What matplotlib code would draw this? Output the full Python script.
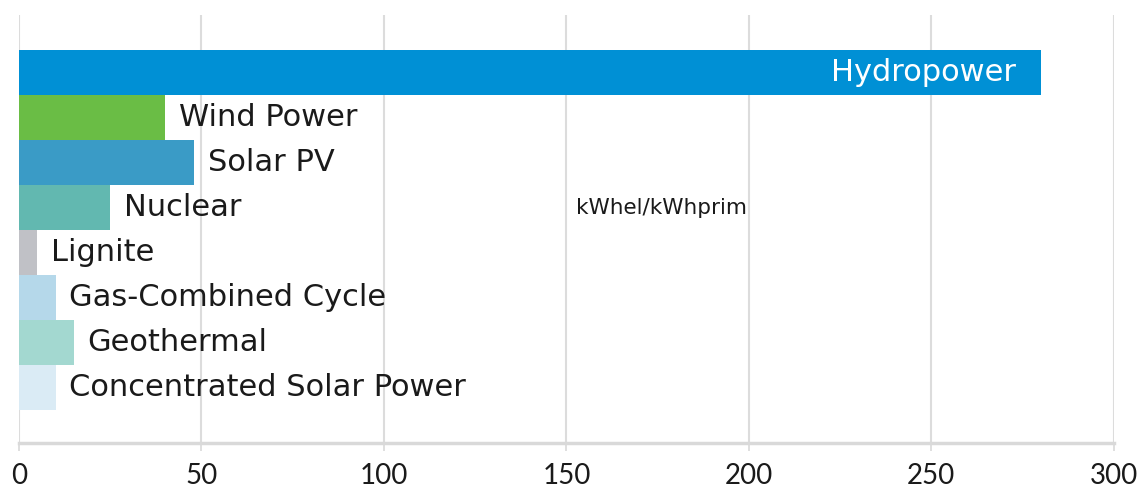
import matplotlib
matplotlib.use("Agg")
import matplotlib.pyplot as plt
import numpy as np

categories = [
    "Hydropower",
    "Wind Power",
    "Solar PV",
    "Nuclear",
    "Lignite",
    "Gas-Combined Cycle",
    "Geothermal",
    "Concentrated Solar Power",
]
values = [280, 40, 48, 25, 5, 10, 15, 10]
colors = ["#0090d5", "#6abd45", "#3a9bc6", "#62b8b0", "#c0c1c6", "#b5d8ea", "#a3d8d0", "#daebf5"]
xticks = [0, 50, 100, 150, 200, 250, 300]
unit_label = "kWhel/kWhprim"

plt.rcParams["font.family"] = ["Lato", "DejaVu Sans"]
label_font = ["DejaVu Sans"]

fig = plt.figure(figsize=(11.4, 4.88), dpi=100)
ax = fig.add_axes([0.0167, 0.092, 0.9603, 0.877])

y = np.arange(len(categories))
ax.barh(y, values, height=1.0, color=colors, zorder=2)

for i, (name, v) in enumerate(zip(categories, values)):
    if i == 0:
        ax.annotate(name, (v, i), xytext=(-18, 0), textcoords="offset points",
                    ha="right", va="center", color="white", fontsize=22,
                    family=label_font)
    else:
        ax.annotate(name, (v, i), xytext=(10, 0), textcoords="offset points",
                    ha="left", va="center", color="#1a1a1a", fontsize=22,
                    family=label_font)

ax.text(152.5, 3, unit_label, ha="left", va="center", fontsize=15.5, color="#1a1a1a",
        family=label_font)

ax.set_xlim(0, 300)
ax.set_ylim(len(categories) - 0.5 + 0.73, -0.5 - 0.78)
ax.set_xticks(xticks)
ax.set_yticks([])
ax.grid(axis="x", color="#dcdcdc", linewidth=1.5, zorder=0)
for side in ["top", "right", "left"]:
    ax.spines[side].set_visible(False)
ax.spines["bottom"].set_color("#d9d9d9")
ax.spines["bottom"].set_linewidth(2.5)
ax.tick_params(axis="x", length=6, width=1.2, color="#d9d9d9", labelsize=20,
               labelcolor="#1a1a1a", pad=8)

fig.savefig("out.png", dpi=100)
